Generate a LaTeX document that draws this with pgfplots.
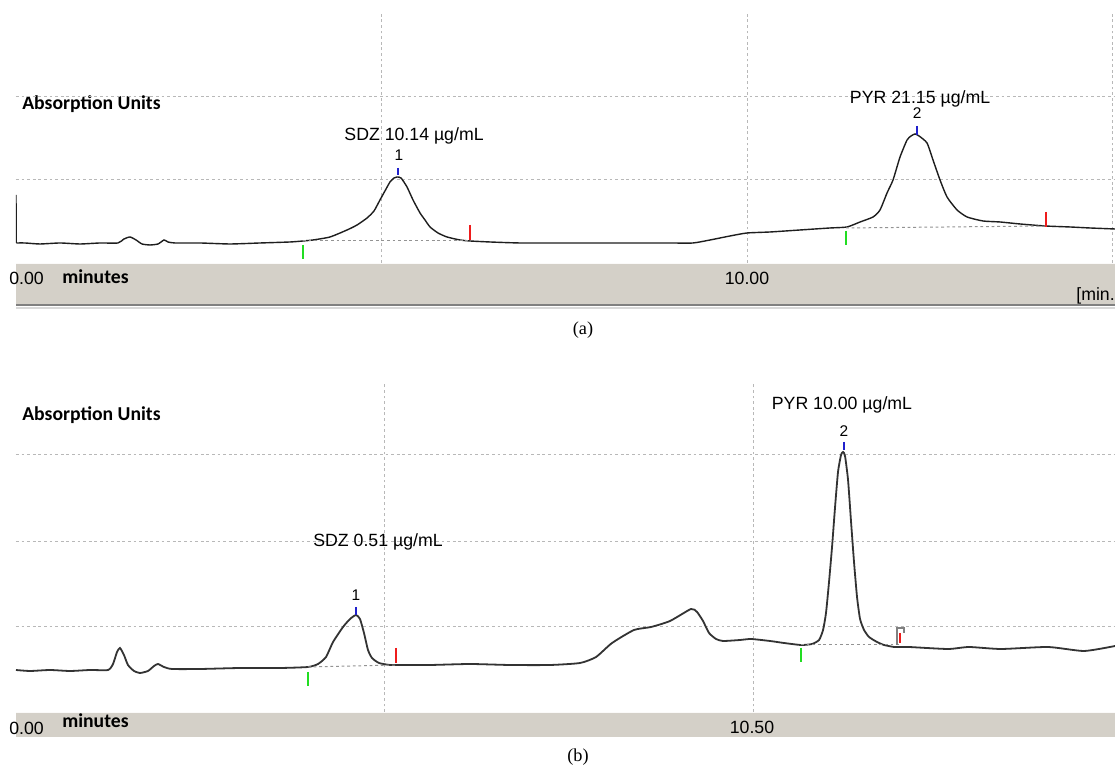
\documentclass[border=0pt]{standalone}
\usepackage{pgfplots}
\pgfplotsset{compat=1.18}
\usepackage{fontspec}
\setmainfont{Liberation Sans}
\newfontfamily\calfont{Carlito}
\newfontfamily\serfont{Liberation Serif}

\definecolor{band}{HTML}{D4D0C8}
\definecolor{gridc}{HTML}{B8B8B8}
\definecolor{pkgreen}{HTML}{22DD22}
\definecolor{pkred}{HTML}{EE1C1C}
\definecolor{pkblue}{HTML}{2020CC}
\definecolor{trace}{HTML}{1E1E1E}

\newcommand{\lab}{\fontsize{12.6pt}{14pt}\selectfont}
\newcommand{\pknum}{\fontsize{11pt}{13pt}\selectfont}
\newcommand{\bold}{\calfont\bfseries\fontsize{14pt}{16pt}\selectfont}

\pgfplotsset{
  chrom/.style={
    scale only axis,
    width=274.75mm,
    xmin=0, ymin=0,
    axis line style={draw=none},
    tick style={draw=none},
    xticklabels={,,,}, yticklabels={,,,},
    grid=major,
    major grid style={gridc, line width=0.25mm, dash pattern=on 0.7mm off 0.7mm},
  },
  peakbase/.style={gray!85, line width=0.25mm, dash pattern=on 0.7mm off 0.7mm},
  startmark/.style={pkgreen, line width=0.5mm},
  endmark/.style={pkred, line width=0.5mm},
  topmark/.style={pkblue, line width=0.5mm},
}

\begin{document}
% 1 px of the reference = 0.25 mm
\begin{tikzpicture}[x=0.25mm, y=0.25mm]
\useasboundingbox (0,0) rectangle (1115,768);
\fill[white] (0,0) rectangle (1115,768);

% ---------- panel (a) ----------
\fill[band] (16,505) rectangle (1115,463);
\draw[white!90!band, line width=0.4mm] (16,504.5) -- (1115,504.5);
\draw[black!50, line width=0.4mm] (16,463) -- (1115,463);
\draw[black!15, line width=0.4mm] (16,460) -- (1115,460);
\node[anchor=west, inner sep=0pt, font=\lab] at (9,490) {0.00};
\node[anchor=west, inner sep=0pt, font=\bold] at (62,491) {minutes};
\node[inner sep=0pt, font=\lab] at (747,490) {10.00};
\node[anchor=east, inner sep=0pt, font=\lab] at (1115,472) {[min.};
\node[anchor=base west, inner sep=0pt, font=\bold] at (22,658) {Absorption Units};
\node[font=\serfont\fontsize{13pt}{15pt}\selectfont] at (583,438) {(a)};

\begin{axis}[chrom, at={(4mm,126.25mm)}, anchor=origin,
  height=62.5mm, xmax=15.034, ymax=250,
  xtick={5,10,15}, ytick={83,166}]
\addplot[trace, line width=0.35mm] coordinates {(0.000,68) (0.004,20)};
\addplot[trace, line width=0.35mm, smooth, tension=0.35] coordinates {
  (0.004,20) (0.123,20) (0.328,19) (0.602,20) (0.876,19)
  (1.149,20) (1.395,20) (1.477,24) (1.560,26) (1.642,23) (1.724,19)
  (1.833,18) (1.943,19) (2.025,23) (2.079,21) (2.175,20) (2.517,20)
  (2.927,19) (3.338,20) (3.748,21) (3.926,22) (4.063,23) (4.295,26)
  (4.528,33) (4.665,38) (4.802,45) (4.897,52) (4.979,63) (5.062,74)
  (5.116,81) (5.171,85) (5.212,86) (5.267,85) (5.349,76) (5.431,63)
  (5.527,50) (5.595,43) (5.664,36) (5.773,30) (5.896,26) (6.074,23)
  (6.211,22) (6.484,21) (6.895,20) (7.442,20) (7.989,20) (8.536,20)
  (8.947,20) (9.261,20) (9.494,23) (9.767,27) (10.000,30) (10.315,31)
  (10.725,33) (11.135,35) (11.368,36) (11.546,41) (11.724,46) (11.819,53)
  (11.915,70) (11.997,83) (12.093,106) (12.189,123) (12.244,127) (12.298,129)
  (12.353,127) (12.462,120) (12.544,103) (12.640,83) (12.736,66) (12.873,53)
  (13.010,46) (13.228,42) (13.461,41) (13.735,39) (14.077,37) (14.419,36)
  (14.692,35) (15.034,34)
};
% integration baselines and peak marks
\addplot[peakbase] coordinates {(3.926,22) (6.211,22)};
\addplot[peakbase] coordinates {(11.354,35) (14.090,37)};
\addplot[startmark] coordinates {(3.926,18) (3.926,4)};
\addplot[topmark] coordinates {(5.226,95) (5.226,88)};
\addplot[endmark] coordinates {(6.211,38) (6.211,23)};
\addplot[startmark] coordinates {(11.354,32) (11.354,18)};
\addplot[topmark] coordinates {(12.326,137) (12.326,128)};
\addplot[endmark] coordinates {(14.090,51) (14.090,36)};
\node[font=\lab] at (axis cs:5.445,127) {SDZ 10.14 µg/mL};
\node[font=\pknum] at (axis cs:5.239,108) {1};
\node[font=\lab] at (axis cs:12.367,164) {PYR 21.15 µg/mL};
\node[font=\pknum] at (axis cs:12.326,150) {2};
\end{axis}

% ---------- panel (b) ----------
\fill[band] (16,56) rectangle (1115,31);
\draw[white!90!band, line width=0.4mm] (16,55.5) -- (1115,55.5);
\node[anchor=west, inner sep=0pt, font=\lab] at (9,40) {0.00};
\node[anchor=west, inner sep=0pt, font=\bold] at (62,47) {minutes};
\node[inner sep=0pt, font=\lab] at (752,41) {10.50};
\node[anchor=base west, inner sep=0pt, font=\bold] at (22,347) {Absorption Units};
\node[font=\serfont\fontsize{13pt}{15pt}\selectfont] at (578,11) {(b)};

\begin{axis}[chrom, at={(4mm,14mm)}, anchor=origin,
  height=82.5mm, xmax=15.655, ymax=330,
  xtick={5.25,10.5}, ytick={85,170,257}]
\addplot[black!80, line width=0.45mm, smooth, tension=0.35] coordinates {
  (0.000,42) (0.199,41) (0.484,42) (0.769,41) (1.054,42) (1.311,42)
  (1.382,48) (1.439,60) (1.481,64) (1.538,57) (1.595,47) (1.681,41)
  (1.766,39) (1.880,41) (1.966,46) (2.023,48) (2.108,45) (2.222,43)
  (2.621,43) (3.191,44) (3.761,44) (4.160,45) (4.302,48) (4.416,55)
  (4.516,70) (4.658,85) (4.758,93) (4.843,97) (4.900,93) (4.957,79)
  (5.014,62) (5.071,54) (5.171,49) (5.328,47) (5.470,47) (5.897,47)
  (6.467,48) (7.037,47) (7.607,47) (8.034,49) (8.262,55) (8.490,69)
  (8.803,82) (9.046,85) (9.316,91) (9.615,103) (9.701,100) (9.786,91)
  (9.872,79) (9.972,73) (10.071,71) (10.313,72) (10.470,73) (10.741,71)
  (10.940,69) (11.182,67) (11.339,68) (11.439,72) (11.496,82) (11.538,99)
  (11.581,130) (11.624,165) (11.667,205) (11.709,240) (11.752,257) (11.781,260)
  (11.809,256) (11.852,232) (11.895,190) (11.937,150) (11.980,115) (12.023,93)
  (12.080,82) (12.151,75) (12.265,70) (12.365,67) (12.507,65) (12.593,65)
  (12.721,65) (13.276,63) (13.575,65) (14.031,63) (14.701,65) (15.214,61)
  (15.655,66)
};
\addplot[peakbase] coordinates {(4.160,45) (5.413,47)};
\addplot[peakbase] coordinates {(11.182,67) (12.593,67)};
\addplot[startmark] coordinates {(4.160,40) (4.160,26)};
\addplot[topmark] coordinates {(4.843,105) (4.843,97)};
\addplot[endmark] coordinates {(5.413,64) (5.413,49)};
\addplot[startmark] coordinates {(11.182,64) (11.182,50)};
\addplot[topmark] coordinates {(11.795,270) (11.795,262)};
\addplot[gray, line width=0.3mm] coordinates {(12.550,67) (12.550,84) (12.650,84) (12.650,79)};
\addplot[endmark] coordinates {(12.593,79) (12.593,69)};
\node[font=\lab] at (axis cs:5.157,170) {SDZ 0.51 µg/mL};
\node[font=\pknum] at (axis cs:4.843,117) {1};
\node[font=\lab] at (axis cs:11.766,307) {PYR 10.00 µg/mL};
\node[font=\pknum] at (axis cs:11.795,281) {2};
\end{axis}
\end{tikzpicture}
\end{document}
